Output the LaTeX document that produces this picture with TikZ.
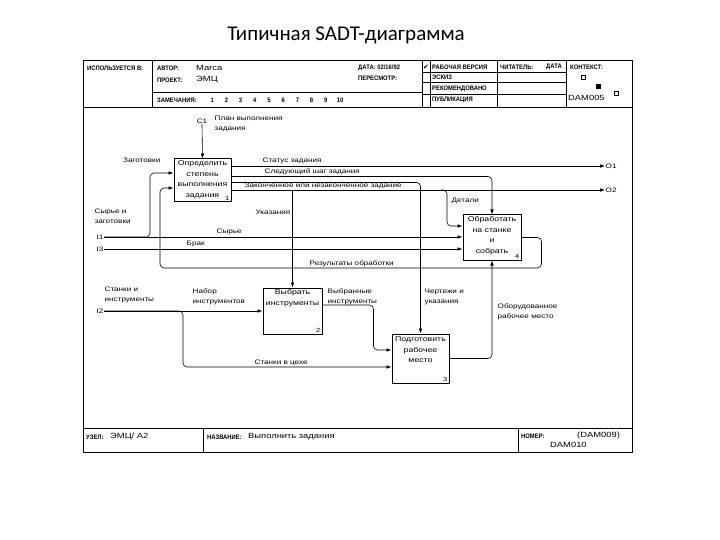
\documentclass[tikz,border=0pt]{standalone}
\usepackage{fontspec}
\setmainfont[FakeStretch=1.25]{Liberation Sans}
\newfontfamily\hdfont[FakeStretch=0.9]{Liberation Sans}
\newfontfamily\titlefont{Carlito}
\newfontfamily\symfont{DejaVu Sans}
\usetikzlibrary{arrows.meta}

\begin{document}
\begin{tikzpicture}[x=1pt,y=-1pt,>={Latex[length=5pt,width=3.6pt]},
    box/.style={draw,line width=1pt,minimum width=57pt,minimum height=44pt,inner sep=0pt},
    btxt/.style={anchor=north,align=center,font=\fontsize{7}{10.5}\selectfont,inner sep=1pt,yshift=-1pt},
    num/.style={anchor=south east,font=\fontsize{6}{7}\selectfont,inner sep=2pt},
    lbl/.style={font=\fontsize{6.5}{10}\selectfont,inner sep=0.5pt,align=left},
    hd/.style={font=\hdfont\bfseries\fontsize{6.5}{7}\selectfont,inner sep=0pt,anchor=west},
    val/.style={font=\fontsize{7.5}{8}\selectfont,inner sep=0pt,anchor=west},
    sq/.style={draw,minimum size=4.5pt,inner sep=0pt},
    arc/.style={->,line width=0.6pt,rounded corners=4pt},
    rule/.style={line width=0.9pt}]

  \useasboundingbox (0,0) rectangle (720,540);

  \node[font=\titlefont\fontsize{21}{24}\selectfont] (title) at (346,35) {Типичная SADT-диаграмма};

  \draw[rule] (83,60) rectangle (632,452);
  \draw[rule] (83,107) -- (632,107) (83,428) -- (632,428);
  \draw (152,60) -- (152,107) (152,92) -- (422,92)
        (422,60) -- (422,107) (430,60) -- (430,107)
        (497,60) -- (497,107) (566,60) -- (566,107)
        (422,72) -- (566,72) (422,82) -- (566,82) (422,94) -- (566,94)
        (203,428) -- (203,452) (518,428) -- (518,452);

  \node[hd] (h_use) at (87,68) {ИСПОЛЬЗУЕТСЯ В:};
  \node[hd] (h_aut) at (157,68) {АВТОР:};
  \node[val] (v_aut) at (196,68) {Marca};
  \node[hd] (h_prj) at (157,80) {ПРОЕКТ:};
  \node[val] (v_prj) at (196,80) {ЭМЦ};
  \node[hd] (h_rem) at (157,100) {ЗАМЕЧАНИЯ:};
  \foreach \n in {1,...,10}
    \node[hd,anchor=center] (z_\n) at ({198+14.2*\n},100) {\n};
  \node[hd] (h_dat) at (358,68) {ДАТА: 02/16/92};
  \node[hd] (h_rev) at (358,78) {ПЕРЕСМОТР:};
  \node[font=\symfont\fontsize{7}{8}\selectfont,inner sep=0pt] (chk) at (426,67) {✔};
  \node[hd] (s_1) at (432,67) {РАБОЧАЯ ВЕРСИЯ};
  \node[hd] (s_2) at (432,77) {ЭСКИЗ};
  \node[hd] (s_3) at (432,89) {РЕКОМЕНДОВАНО};
  \node[hd] (s_4) at (432,100) {ПУБЛИКАЦИЯ};
  \node[hd] (h_rd) at (500,67) {ЧИТАТЕЛЬ:};
  \node[hd] (h_rdd) at (546,67) {ДАТА};
  \node[hd] (h_ctx) at (570,67) {КОНТЕКСТ:};
  \node[sq] (k_1) at (583,77) {};
  \node[sq,fill] (k_2) at (598,86) {};
  \node[sq] (k_3) at (616,93) {};
  \node[val] (v_ctx) at (568,98) {DAM005};

  \node[hd] (f_node) at (86,437) {УЗЕЛ:};
  \node[val] (v_node) at (110,437) {ЭМЦ/ A2};
  \node[hd] (f_name) at (207,437) {НАЗВАНИЕ:};
  \node[val] (v_name) at (248,437) {Выполнить задания};
  \node[hd] (f_num) at (521,436) {НОМЕР:};
  \node[val] (v_num) at (577,436) {(DAM009)};
  \node[val] (v_num2) at (550,445) {DAM010};

  \node[box,minimum height=43pt,label={[btxt]north:Определить\\степень\\выполнения\\задания},
        label={[num]south east:1}] (a_1) at (202.5,180.5) {};
  \node[box,minimum width=59pt,minimum height=46pt,label={[btxt]north:Выбрать\\инструменты},
        label={[num]south east:2}] (a_2) at (292.5,311) {};
  \node[box,minimum height=49pt,label={[btxt,yshift=-1pt]north:Подготовить\\рабочее\\место},
        label={[num]south east:3}] (a_3) at (420.5,358.5) {};
  \node[box,minimum width=58pt,minimum height=45pt,label={[btxt]north:Обработать\\на станке\\и\\собрать},
        label={[num]south east:4}] (a_4) at (492,237.5) {};

  \node[lbl] (c_1) at (202,121) {C1};
  \node[lbl,anchor=east] (i_1) at (104,237) {I1};
  \node[lbl,anchor=east] (i_3) at (104,249) {I3};
  \node[lbl,anchor=east] (i_2) at (104,311) {I2};
  \node[lbl,anchor=west] (o_1) at (605,166) {O1};
  \node[lbl,anchor=west] (o_2) at (605,190) {O2};
  \coordinate (b_det) at (441,190);
  \coordinate (b_res) at (160,268);

  \draw[arc] (c_1.south) -- (a_1.north);
  \draw[arc] (a_1.east |- o_1) -- (o_1.west);
  \draw[arc] ([yshift=-18pt]a_1.north east) -| (a_4.north);
  \draw[arc] ([yshift=-24pt]a_1.north east) -| (a_2.north);
  \draw[arc] ([yshift=-24pt]a_1.north east) -| (a_3.north);
  \draw[arc] (a_1.east |- o_2) -- (o_2.west);
  \draw[arc] (b_det) -- ++(6,0) |- ([yshift=11.5pt]a_4.west);
  \draw[arc] (i_1.east) -- (a_4.west |- i_1);
  \draw[arc] (i_1.east) -- ++(46,0) |- ([yshift=7.5pt]a_1.west);
  \draw[arc] (i_3.east) -- (a_4.west |- i_3);
  \draw[arc] (a_4.east) -- ++(20,0) |- (b_res) |- ([yshift=-7.5pt]a_1.west);
  \draw[arc] (i_2.east) -- (a_2.west |- i_2);
  \draw[arc] (i_2.east) -- ++(79,0) |- ([yshift=-8.5pt]a_3.west);
  \draw[arc] ([yshift=6pt]a_2.east) -- ++(51,0) |- ([yshift=8.5pt]a_3.west);
  \draw[arc] (a_3.east) -| (a_4.south);

  \node[lbl,anchor=north west] (t_plan) at (214,115) {План выполнения\\задания};
  \node[lbl,anchor=east] (t_zag) at (161,160) {Заготовки};
  \node[lbl,anchor=west] (t_stat) at (262,161) {Статус задания};
  \node[lbl,anchor=west] (t_step) at (264,172) {Следующий шаг задания};
  \node[lbl,anchor=base west,fill=white] (t_done) at (244,188) {Законченное или незаконченное задание};
  \node[lbl,anchor=west] (t_det) at (451,201) {Детали};
  \node[lbl,anchor=north west] (t_raw) at (94,208) {Сырье и\\заготовки};
  \node[lbl,anchor=east] (t_ukaz) at (291,212) {Указания};
  \node[lbl,anchor=west] (t_syr) at (216,232) {Сырье};
  \node[lbl,anchor=west] (t_brak) at (186,244) {Брак};
  \node[lbl,anchor=west] (t_res) at (309,264) {Результаты обработки};
  \node[lbl,anchor=north west] (t_stan) at (104,286) {Станки и\\инструменты};
  \node[lbl,anchor=north west] (t_nab) at (192,288) {Набор\\инструментов};
  \node[lbl,anchor=north west] (t_vyb) at (327,288) {Выбранные\\инструменты};
  \node[lbl,anchor=north west] (t_cher) at (424,288) {Чертежи и\\указания};
  \node[lbl,anchor=north west] (t_obor) at (497,303) {Оборудованное\\рабочее место};
  \node[lbl,anchor=west] (t_cex) at (254,363) {Станки в цехе};

\end{tikzpicture}
\end{document}
